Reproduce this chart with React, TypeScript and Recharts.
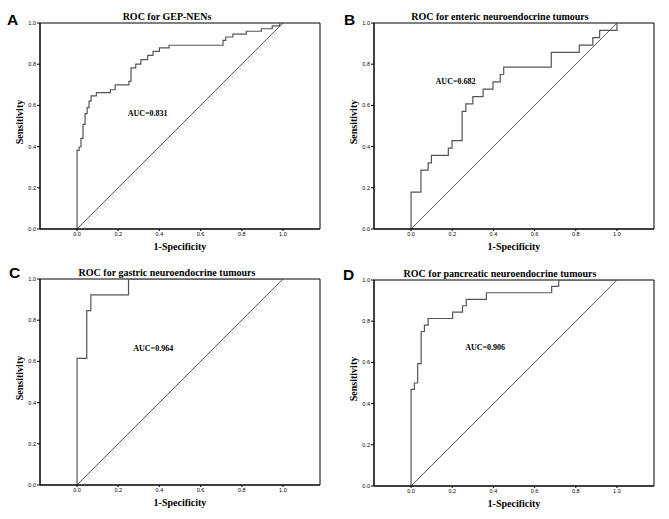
import React from 'react';
import { LineChart, Line, XAxis, YAxis, ReferenceArea, ReferenceDot, Label } from 'recharts';

const SERIF = '"Liberation Serif", "Times New Roman", serif';
const SANS = '"Liberation Sans", Arial, sans-serif';

// axis ticks
const tickValues = [0, 0.2, 0.4, 0.6, 0.8, 1.0];
const xTitle = '1-Specificity';
const yTitle = 'Sensitivity';

// reference (chance) line
const diagX = [0, 1];
const diagY = [0, 1];

// Panel A: GEP-NENs
const fprA = [0, 0, 0.01, 0.019, 0.029, 0.039, 0.049, 0.058, 0.068, 0.094, 0.162, 0.185, 0.252, 0.262, 0.285, 0.31, 0.343, 0.369, 0.4, 0.447, 0.709, 0.722, 0.757, 0.822, 0.895, 0.948, 0.984, 1];
const tprA = [0, 0.382, 0.398, 0.44, 0.508, 0.56, 0.589, 0.621, 0.646, 0.662, 0.676, 0.7, 0.717, 0.782, 0.8, 0.822, 0.843, 0.862, 0.879, 0.892, 0.916, 0.932, 0.946, 0.96, 0.972, 0.986, 1.0, 1.0];

// Panel B: enteric
const fprB = [0, 0, 0.048, 0.083, 0.099, 0.181, 0.199, 0.248, 0.266, 0.3, 0.35, 0.398, 0.433, 0.45, 0.681, 0.817, 0.883, 0.916, 1.0];
const tprB = [0, 0.179, 0.286, 0.321, 0.357, 0.393, 0.429, 0.571, 0.607, 0.643, 0.679, 0.714, 0.75, 0.786, 0.857, 0.893, 0.929, 0.964, 1.0];

// Panel C: gastric
const fprC = [0, 0, 0.047, 0.067, 0.25, 1];
const tprC = [0, 0.615, 0.846, 0.923, 1.0, 1.0];

// Panel D: pancreatic
const fprD = [0, 0, 0.016, 0.032, 0.049, 0.065, 0.083, 0.202, 0.25, 0.268, 0.366, 0.683, 0.717, 1];
const tprD = [0, 0.469, 0.5, 0.594, 0.75, 0.781, 0.813, 0.844, 0.875, 0.906, 0.938, 0.969, 1.0, 1.0];

const letters = ['A', 'B', 'C', 'D'];
const titles = [
  'ROC for GEP-NENs',
  'ROC for enteric neuroendocrine tumours',
  'ROC for gastric neuroendocrine tumours',
  'ROC for pancreatic neuroendocrine tumours',
];
const aucTexts = ['AUC=0.831', 'AUC=0.682', 'AUC=0.964', 'AUC=0.906'];
// AUC label anchor in data coordinates (1-specificity, sensitivity)
const aucFpr = [0.343, 0.216, 0.37, 0.36];
const aucTpr = [0.562, 0.717, 0.664, 0.672];

const fprs = [fprA, fprB, fprC, fprD];
const tprs = [tprA, tprB, tprC, tprD];

// layout
const W = 335;
const H = 260;
const MARGIN = { top: 23, right: 15, bottom: 0, left: 0 };
const Y_AXIS_W = 40;
const X_AXIS_H = 31;
const PLOT_H = H - MARGIN.top - X_AXIS_H;
const panelPos = [
  { left: 0, top: 0 },
  { left: 334, top: 0 },
  { left: 0, top: 256 },
  { left: 334, top: 257 },
];
const letterPos = [
  { x: 7, y: 25 },
  { x: 344, y: 25 },
  { x: 9, y: 278 },
  { x: 343, y: 280 },
];
const titlePos = [
  { x: 167, y: 20 },
  { x: 500, y: 20 },
  { x: 167, y: 276 },
  { x: 500, y: 277 },
];

const fmt = (v: number) => v.toFixed(1);

const YTitle = (props: any) => {
  const vb = props && props.viewBox ? props.viewBox : {};
  const top = typeof vb.y === 'number' ? vb.y : MARGIN.top;
  const h = typeof vb.height === 'number' ? vb.height : PLOT_H;
  const cx = 23;
  const cy = top + h / 2 - 4;
  return (
    <text
      x={cx}
      y={cy}
      transform={`rotate(-90 ${cx} ${cy})`}
      textAnchor="middle"
      fontFamily={SERIF}
      fontWeight="bold"
      fontSize={10}
      fill="#000"
    >
      {yTitle}
    </text>
  );
};

const makeAucLabel = (text: string) => (props: any) => {
  const vb = props && props.viewBox ? props.viewBox : { x: 0, y: 0, width: 0, height: 0 };
  const cx = vb.x + (vb.width || 0) / 2;
  const cy = vb.y + (vb.height || 0) / 2;
  return (
    <text
      x={cx}
      y={cy}
      dy="0.33em"
      textAnchor="middle"
      fontFamily={SERIF}
      fontWeight="bold"
      fontSize={8}
      fill="#000"
      stroke="none"
    >
      {text}
    </text>
  );
};

function RocPanel({ idx }: { idx: number }) {
  const curve = fprs[idx].map((x, i) => ({ x, y: tprs[idx][i] }));
  const diag = diagX.map((x, i) => ({ x, y: diagY[i] }));
  return (
    <LineChart width={W} height={H} margin={MARGIN}>
      <XAxis
        type="number"
        dataKey="x"
        domain={[-0.18, 1.18]}
        ticks={tickValues}
        interval={0}
        allowDataOverflow
        tickFormatter={fmt}
        tick={{ fontSize: 5.5, fill: '#000', fontFamily: SANS }}
        tickSize={2}
        tickMargin={1.5}
        axisLine={{ stroke: '#000' }}
        tickLine={{ stroke: '#000' }}
        height={X_AXIS_H}
      >
        <Label
          value={xTitle}
          position="insideBottom"
          offset={10}
          fill="#000"
          fontFamily={SERIF}
          fontWeight="bold"
          fontSize={10}
        />
      </XAxis>
      <YAxis
        type="number"
        dataKey="y"
        domain={[0, 1]}
        ticks={tickValues}
        interval={0}
        allowDataOverflow
        tickFormatter={fmt}
        tick={{ fontSize: 5.5, fill: '#000', fontFamily: SANS }}
        tickSize={3}
        tickMargin={1}
        axisLine={{ stroke: '#000' }}
        tickLine={{ stroke: '#000' }}
        width={Y_AXIS_W}
      >
        <Label content={YTitle} />
      </YAxis>
      <ReferenceArea
        x1={-0.18}
        x2={1.18}
        y1={0}
        y2={1}
        fill="none"
        fillOpacity={0}
        stroke="#000"
        strokeWidth={1}
        ifOverflow="visible"
      />
      <Line
        data={diag}
        dataKey="y"
        type="linear"
        stroke="#111"
        strokeWidth={0.7}
        dot={false}
        activeDot={false}
        isAnimationActive={false}
      />
      <Line
        data={curve}
        dataKey="y"
        type="stepAfter"
        stroke="#555"
        strokeWidth={1.2}
        dot={false}
        activeDot={false}
        isAnimationActive={false}
      />
      <ReferenceDot
        x={aucFpr[idx]}
        y={aucTpr[idx]}
        r={0}
        fill="none"
        stroke="none"
      >
        <Label content={makeAucLabel(aucTexts[idx])} />
      </ReferenceDot>
    </LineChart>
  );
}

export default function App() {
  return (
    <div style={{ position: 'absolute', left: 0, top: 0, width: 669, height: 519, background: '#fff', overflow: 'hidden' }}>
      {panelPos.map((p, i) => (
        <div key={i} style={{ position: 'absolute', left: p.left, top: p.top, width: W, height: H }}>
          <RocPanel idx={i} />
        </div>
      ))}
      <svg width={669} height={519} style={{ position: 'absolute', left: 0, top: 0, pointerEvents: 'none' }}>
        {letters.map((l, i) => (
          <text key={'l' + i} x={letterPos[i].x} y={letterPos[i].y} fontFamily={SANS} fontWeight="bold" fontSize={15.5} fill="#000">
            {l}
          </text>
        ))}
        {titles.map((t, i) => (
          <text key={'t' + i} x={titlePos[i].x} y={titlePos[i].y} textAnchor="middle" fontFamily={SERIF} fontWeight="bold" fontSize={10} fill="#000">
            {t}
          </text>
        ))}
      </svg>
    </div>
  );
}
